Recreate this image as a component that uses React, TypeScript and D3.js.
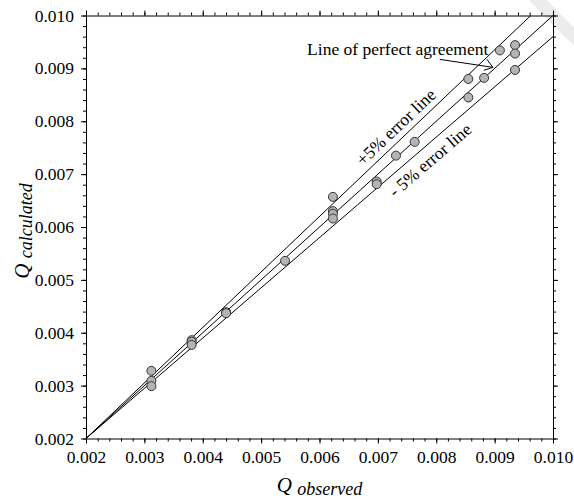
import React, { useEffect, useRef } from "react";
import * as d3 from "d3";

// measured values (observed vs calculated discharge)
const observed = [
  0.00312, 0.00312, 0.00312, 0.00381, 0.00381, 0.00381, 0.0044, 0.0044,
  0.00541, 0.00623, 0.00623, 0.00623, 0.00623, 0.00698, 0.00698, 0.00731,
  0.00763, 0.00855, 0.00855, 0.00882, 0.00909, 0.00935, 0.00935, 0.00935,
];
const calculated = [
  0.00328, 0.00309, 0.00299, 0.00386, 0.00383, 0.00377, 0.00439, 0.00437,
  0.00536, 0.00657, 0.0063, 0.00625, 0.00616, 0.00686, 0.00681, 0.00735,
  0.00761, 0.0088, 0.00845, 0.00882, 0.00934, 0.00944, 0.00928, 0.00897,
];
const tickValues = [0.002, 0.003, 0.004, 0.005, 0.006, 0.007, 0.008, 0.009, 0.01];
const errorFactors = [1, 1.05, 0.95];

const App = () => {
  const svgRef = useRef<SVGSVGElement>(null);

  useEffect(() => {
    document.body.style.margin = "0";
    const width = 574;
    const height = 501;
    const margin = { top: 15.5, right: 21, bottom: 62.5, left: 86 };
    const font = "'Liberation Serif', 'Times New Roman', Times, serif";

    const svg = d3.select(svgRef.current);
    svg.selectAll("*").remove();
    svg.attr("width", width).attr("height", height);

    // faint watermark stroke in the top-right corner
    svg
      .append("path")
      .attr("d", "M534,-4 C550,12 562,26 580,42")
      .attr("fill", "none")
      .attr("stroke", "#ececec")
      .attr("stroke-width", 13);

    const x = d3
      .scaleLinear()
      .domain([0.002, 0.01])
      .range([margin.left, width - margin.right]);
    const y = d3
      .scaleLinear()
      .domain([0.002, 0.01])
      .range([height - margin.bottom, margin.top]);

    const minor = d3.range(0.002, 0.01001, 0.0002);

    // axes: major ticks labelled, minor ticks unlabelled, all outward
    const drawAxis = (axisFn: any, scale: any, transform: string, labels: boolean) => {
      const g = svg.append("g").attr("transform", transform);
      g.call(
        axisFn(scale)
          .tickValues(minor)
          .tickSize(3)
          .tickFormat(() => ""),
      );
      g.call((s: any) => s.select(".domain").remove());
      const gm = svg.append("g").attr("transform", transform);
      gm.call(
        axisFn(scale)
          .tickValues(tickValues)
          .tickSize(5)
          .tickSizeOuter(0)
          .tickPadding(labels ? 7 : 0)
          .tickFormat(labels ? d3.format(".3f") : () => ""),
      );
      gm.attr("font-family", font);
      gm.selectAll("text")
        .attr("font-family", font)
        .attr("font-size", 17.5)
        .attr("fill", "#000");
      svg.selectAll("g line, path.domain").attr("stroke", "#000");
    };

    drawAxis(d3.axisBottom, x, `translate(0,${height - margin.bottom})`, true);
    drawAxis(d3.axisLeft, y, `translate(${margin.left},0)`, true);
    drawAxis(d3.axisTop, x, `translate(0,${margin.top})`, false);
    drawAxis(d3.axisRight, y, `translate(${width - margin.right},0)`, false);

    // perfect agreement and +/-5% lines through the lower-left corner
    const lineGen = d3
      .line<[number, number]>()
      .x((d) => x(d[0]))
      .y((d) => y(d[1]));
    errorFactors.forEach((k) => {
      const xEnd = k > 1 ? 0.002 + 0.008 / k : 0.01;
      const yEnd = 0.002 + k * (xEnd - 0.002);
      svg
        .append("path")
        .attr("d", lineGen([[0.002, 0.002], [xEnd, yEnd]]))
        .attr("fill", "none")
        .attr("stroke", "#000")
        .attr("stroke-width", 1);
    });

    // points
    svg
      .append("g")
      .selectAll("circle")
      .data(observed.map((o, i) => [o, calculated[i]]))
      .join("circle")
      .attr("cx", (d) => x(d[0]))
      .attr("cy", (d) => y(d[1]))
      .attr("r", 4.5)
      .attr("fill", "#b4b4b4")
      .attr("stroke", "#333")
      .attr("stroke-width", 1);

    // annotations
    const slope = (k: number) =>
      (Math.atan((k * (y(0.002) - y(0.003))) / (x(0.003) - x(0.002))) * 180) / Math.PI;

    svg
      .append("text")
      .attr("transform", `translate(${x(0.00738)},${y(0.00781)}) rotate(${-slope(1.05)})`)
      .attr("text-anchor", "middle")
      .attr("font-family", font)
      .attr("font-size", 17.5)
      .text("+5% error line");

    svg
      .append("text")
      .attr("transform", `translate(${x(0.00796)},${y(0.00718)}) rotate(${-slope(0.95)})`)
      .attr("text-anchor", "middle")
      .attr("font-family", font)
      .attr("font-size", 17.5)
      .attr("xml:space", "preserve")
      .text("- 5% error line");

    svg
      .append("text")
      .attr("x", x(0.00734))
      .attr("y", y(0.00925))
      .attr("text-anchor", "middle")
      .attr("font-family", font)
      .attr("font-size", 17.5)
      .text("Line of perfect agreement");

    // arrow from the label to the perfect agreement line
    const ax0 = [x(0.00806), y(0.00917)];
    const ax1 = [x(0.00897), y(0.00902)];
    svg
      .append("line")
      .attr("x1", ax0[0])
      .attr("y1", ax0[1])
      .attr("x2", ax1[0])
      .attr("y2", ax1[1])
      .attr("stroke", "#000");
    svg
      .append("path")
      .attr("d", `M${ax1[0] - 6},${ax1[1] - 8} L${ax1[0]},${ax1[1]} L${ax1[0] - 9},${ax1[1] + 3}`)
      .attr("fill", "none")
      .attr("stroke", "#000");

    // axis titles
    const xt = svg
      .append("text")
      .attr("x", (margin.left + width - margin.right) / 2)
      .attr("y", height - 9)
      .attr("text-anchor", "middle")
      .attr("font-family", font)
      .attr("font-style", "italic")
      .attr("font-size", 21);
    xt.append("tspan").text("Q ");
    xt.append("tspan").attr("font-size", 18).attr("dy", 3).text("observed");

    const yt = svg
      .append("text")
      .attr("transform", `translate(29,${(margin.top + height - margin.bottom) / 2 + 4}) rotate(-90)`)
      .attr("text-anchor", "middle")
      .attr("font-family", font)
      .attr("font-style", "italic")
      .attr("font-size", 21);
    yt.append("tspan").text("Q ");
    yt.append("tspan").attr("font-size", 18).attr("dy", 3).text("calculated");
  }, []);

  return <svg ref={svgRef} style={{ display: "block", background: "#fff" }} />;
};

export default App;
